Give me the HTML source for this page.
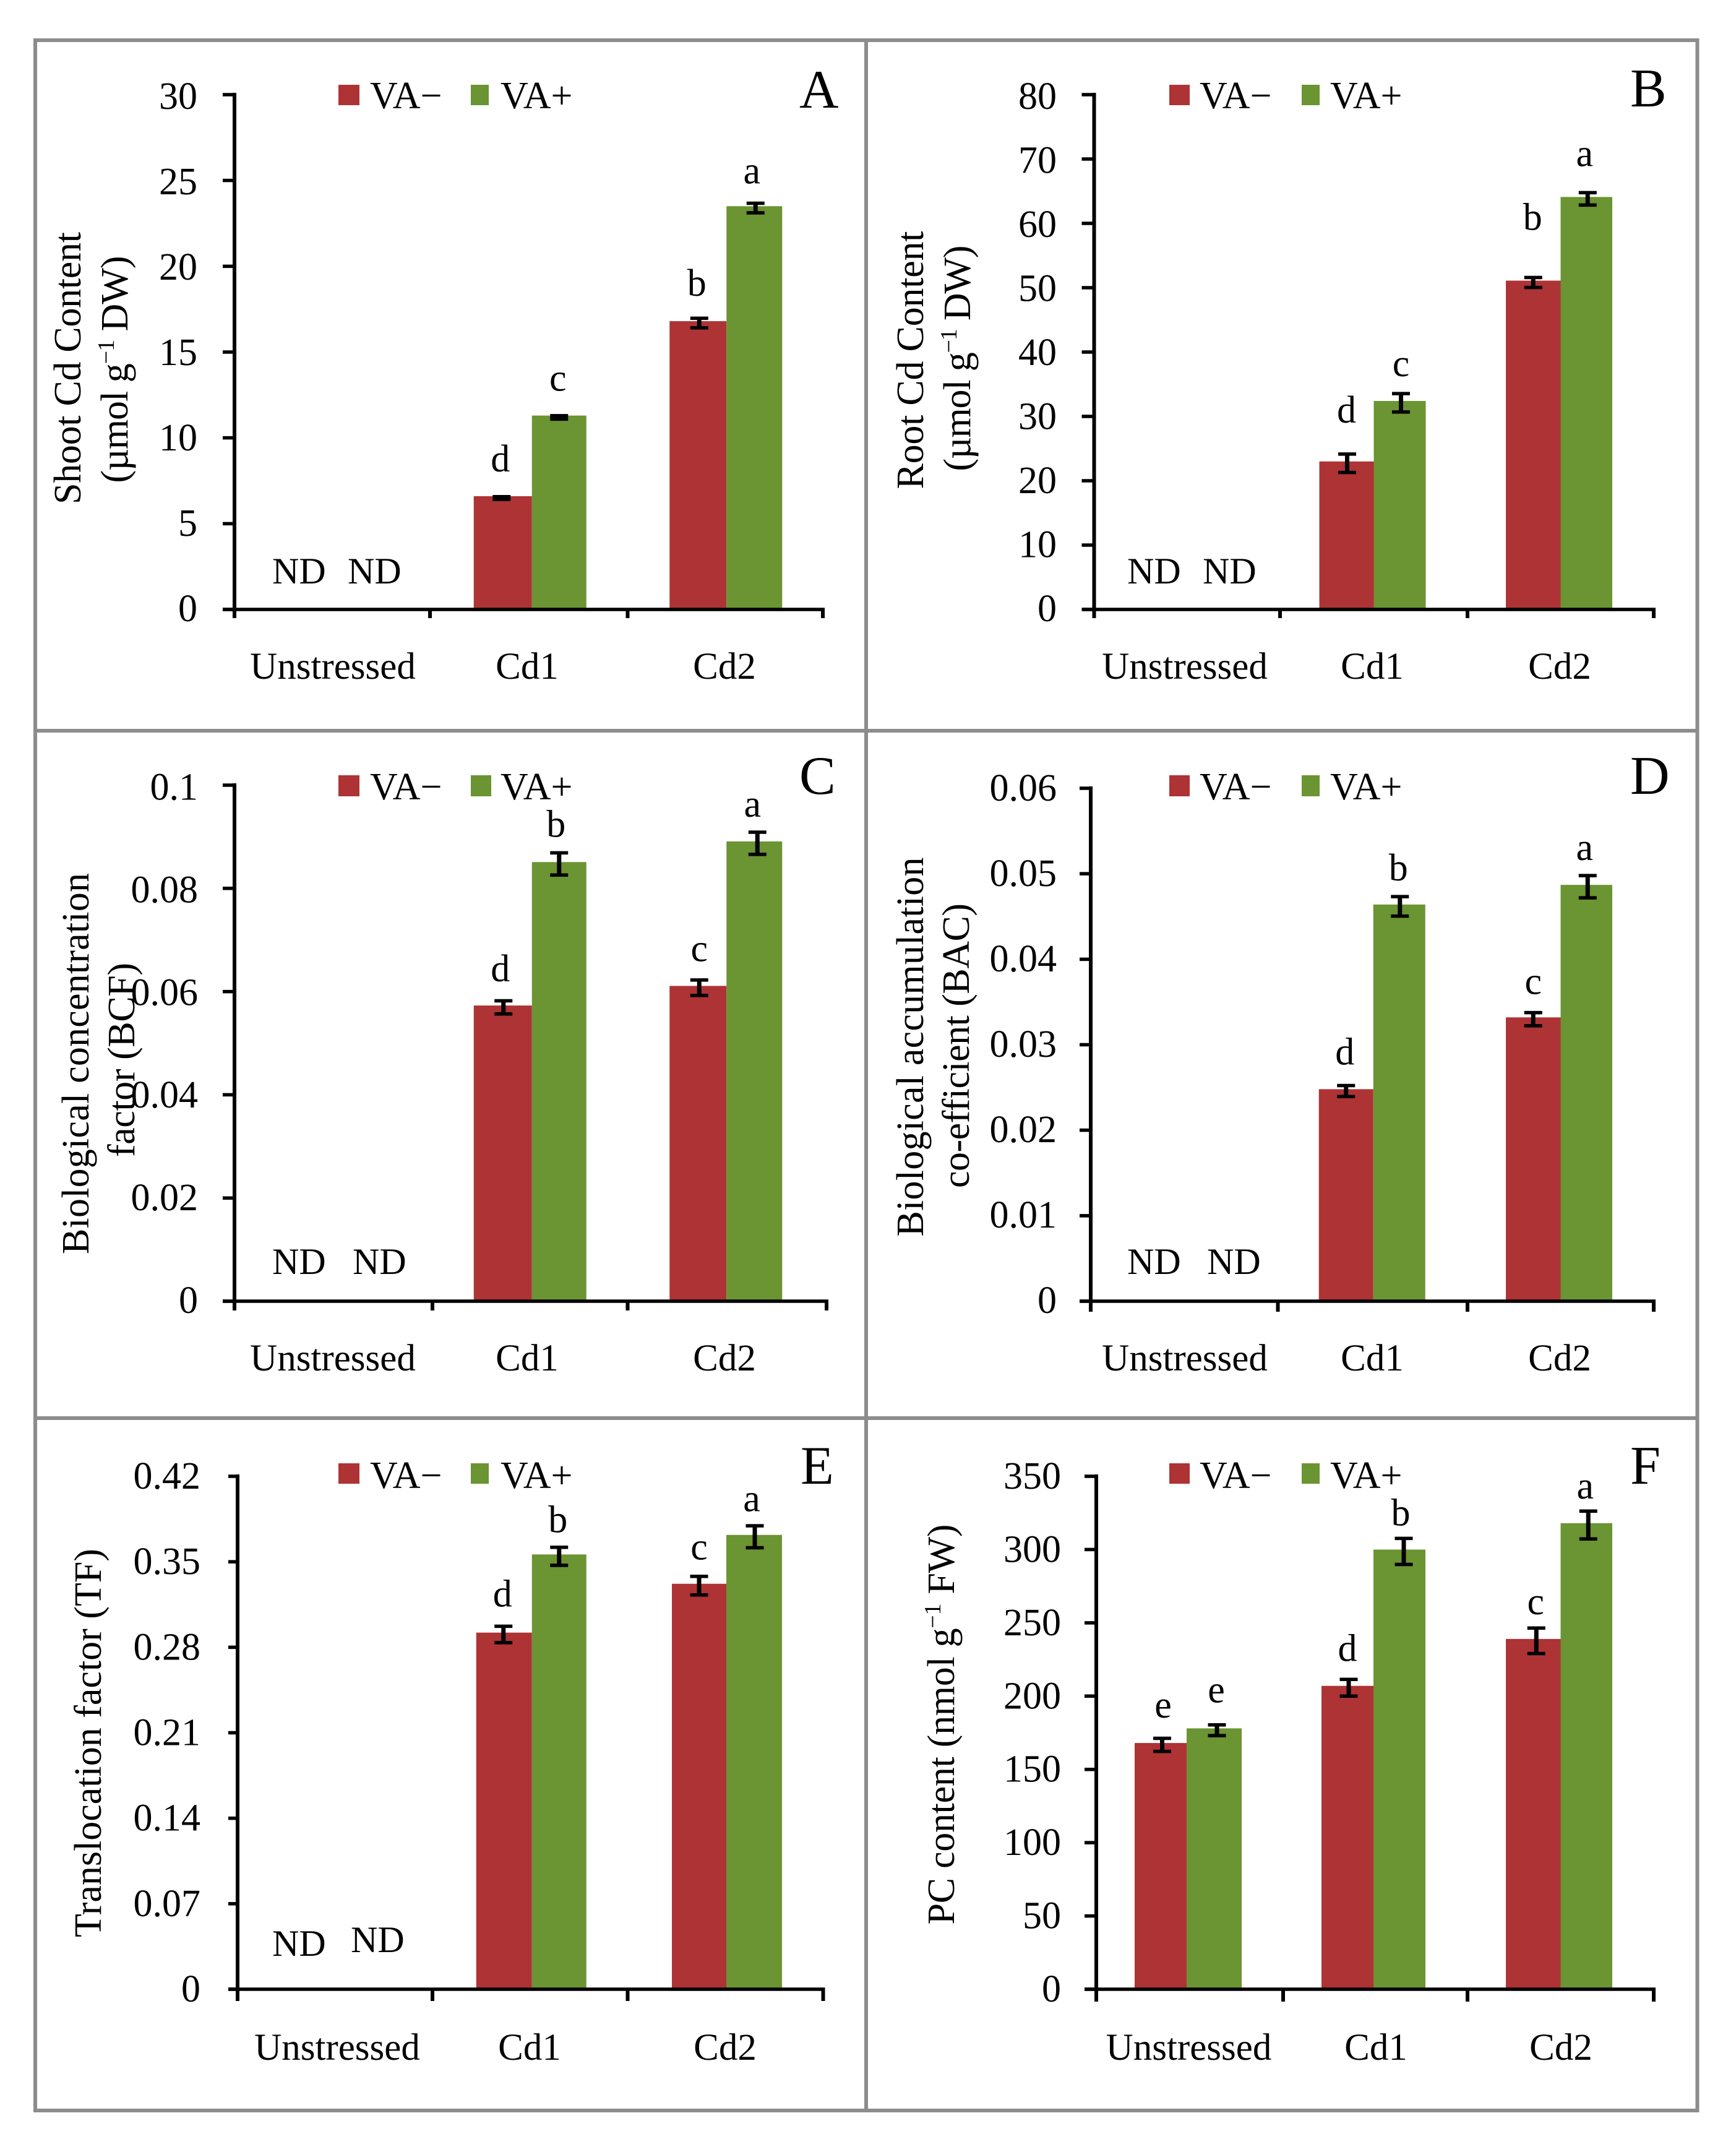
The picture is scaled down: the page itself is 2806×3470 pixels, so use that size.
<!DOCTYPE html>
<html lang="en">
<head>
<meta charset="utf-8">
<title>Cd content and accumulation in VA− and VA+ plants</title>
<style>
html,body{margin:0;padding:0;background:#fff;}
svg{display:block;}
text{font-family:"Liberation Serif","DejaVu Serif",serif;fill:#000;}
.t{font-size:62px;}
.c{font-size:61px;}
.lg{font-size:62px;}
.nd{font-size:60px;}
.pl{font-size:88px;}
</style>
</head>
<body>
<svg id="figure" xmlns="http://www.w3.org/2000/svg" width="2806" height="3470" viewBox="0 0 2806 3470">
<rect x="0" y="0" width="2806" height="3470" fill="#fff"/>

<g id="panel-a">
  <g>
    <rect x="547" y="137" width="34" height="33" fill="#ae3335"/>
    <text class="lg" x="598" y="175">VA−</text>
    <rect x="761" y="137" width="29" height="33" fill="#6b9432"/>
    <text class="lg" x="809" y="175">VA+</text>
  </g>
  <text class="pl" x="1292" y="174">A</text>
  <text class="t" text-anchor="middle" textLength="440" transform="translate(130,595) rotate(-90)">Shoot Cd Content</text>
  <text class="t" text-anchor="middle" textLength="367" transform="translate(206,597) rotate(-90)">(µmol g<tspan font-size="38" dy="-22">−1</tspan><tspan dy="22"> DW)</tspan></text>
  <text class="nd" x="440" y="943">ND</text>
  <text class="nd" x="562" y="943">ND</text>
</g>

<g id="panel-b">
  <g>
    <rect x="1890" y="137" width="33" height="33" fill="#ae3335"/>
    <text class="lg" x="1939" y="175">VA−</text>
    <rect x="2104" y="137" width="29" height="33" fill="#6b9432"/>
    <text class="lg" x="2150" y="175">VA+</text>
  </g>
  <text class="pl" x="2635" y="172">B</text>
  <text class="t" text-anchor="middle" textLength="417" transform="translate(1492,582) rotate(-90)">Root Cd Content</text>
  <text class="t" text-anchor="middle" textLength="365" transform="translate(1568,579) rotate(-90)">(µmol g<tspan font-size="38" dy="-22">−1</tspan><tspan dy="22"> DW)</tspan></text>
  <text class="nd" x="1822" y="943">ND</text>
  <text class="nd" x="1944" y="943">ND</text>
</g>

<g id="panel-c">
  <g>
    <rect x="547" y="1253" width="34" height="34" fill="#ae3335"/>
    <text class="lg" x="598" y="1292">VA−</text>
    <rect x="761" y="1253" width="33" height="34" fill="#6b9432"/>
    <text class="lg" x="809" y="1292">VA+</text>
  </g>
  <text class="pl" x="1292" y="1283">C</text>
  <text class="t" text-anchor="middle" textLength="616" transform="translate(143,1719) rotate(-90)">Biological concentration</text>
  <text class="t" text-anchor="middle" textLength="314" transform="translate(217,1713) rotate(-90)">factor (BCF)</text>
  <text class="nd" x="440" y="2059">ND</text>
  <text class="nd" x="570" y="2059">ND</text>
</g>

<g id="panel-d">
  <g>
    <rect x="1890" y="1253" width="33" height="34" fill="#ae3335"/>
    <text class="lg" x="1939" y="1292">VA−</text>
    <rect x="2104" y="1253" width="29" height="34" fill="#6b9432"/>
    <text class="lg" x="2150" y="1292">VA+</text>
  </g>
  <text class="pl" x="2635" y="1283">D</text>
  <text class="t" text-anchor="middle" textLength="613" transform="translate(1492,1692) rotate(-90)">Biological accumulation</text>
  <text class="t" text-anchor="middle" textLength="460" transform="translate(1566,1690) rotate(-90)">co-efficient (BAC)</text>
  <text class="nd" x="1822" y="2059">ND</text>
  <text class="nd" x="1951" y="2059">ND</text>
</g>

<g id="panel-e">
  <g>
    <rect x="547" y="2365" width="34" height="33" fill="#ae3335"/>
    <text class="lg" x="598" y="2405">VA−</text>
    <rect x="761" y="2365" width="29" height="33" fill="#6b9432"/>
    <text class="lg" x="809" y="2405">VA+</text>
  </g>
  <text class="pl" x="1294" y="2398">E</text>
  <text class="t" text-anchor="middle" textLength="628" transform="translate(163,2817) rotate(-90)">Translocation factor (TF)</text>
  <text class="nd" x="440" y="3161">ND</text>
  <text class="nd" x="567" y="3155">ND</text>
</g>

<g id="panel-f">
  <g>
    <rect x="1890" y="2365" width="33" height="33" fill="#ae3335"/>
    <text class="lg" x="1939" y="2405">VA−</text>
    <rect x="2104" y="2365" width="29" height="33" fill="#6b9432"/>
    <text class="lg" x="2150" y="2405">VA+</text>
  </g>
  <text class="pl" x="2635" y="2398">F</text>
  <text class="t" text-anchor="middle" textLength="647" transform="translate(1542,2787) rotate(-90)">PC content (nmol g<tspan font-size="38" dy="-22">−1</tspan><tspan dy="22"> FW)</tspan></text>
</g>

<g id="frame" fill="none" stroke="#8c8c8c" stroke-width="6">
  <rect x="57" y="65" width="2686.5" height="3346"/>
  <line x1="1400" y1="65" x2="1400" y2="3411"/>
  <line x1="57" y1="1181" x2="2743.5" y2="1181"/>
  <line x1="57" y1="2292" x2="2743.5" y2="2292"/>
</g>
</svg>

<script>
const categories = ['Unstressed', 'Cd1', 'Cd2'];

const yTickLabelsA = ['0', '5', '10', '15', '20', '25', '30'];
const vaMinusA = [null, 6.6, 16.8];
const vaPlusA = [null, 11.3, 23.5];
const errMinusA = [0, 0.08, 0.28];
const errPlusA = [0, 0.1, 0.28];
const sigMinusA = ['', 'd', 'b'];
const sigPlusA = ['', 'c', 'a'];

const yTickLabelsB = ['0', '10', '20', '30', '40', '50', '60', '70', '80'];
const vaMinusB = [null, 23, 51.1];
const vaPlusB = [null, 32.4, 64.1];
const errMinusB = [0, 1.43, 0.77];
const errPlusB = [0, 1.43, 0.96];
const sigMinusB = ['', 'd', 'b'];
const sigPlusB = ['', 'c', 'a'];

const yTickLabelsC = ['0', '0.02', '0.04', '0.06', '0.08', '0.1'];
const vaMinusC = [null, 0.0573, 0.0611];
const vaPlusC = [null, 0.0851, 0.0891];
const errMinusC = [0, 0.00128, 0.0015];
const errPlusC = [0, 0.00215, 0.00215];
const sigMinusC = ['', 'd', 'c'];
const sigPlusC = ['', 'b', 'a'];

const yTickLabelsD = ['0', '0.01', '0.02', '0.03', '0.04', '0.05', '0.06'];
const vaMinusD = [null, 0.0248, 0.0332];
const vaPlusD = [null, 0.0464, 0.0487];
const errMinusD = [0, 0.00064, 0.00077];
const errPlusD = [0, 0.00114, 0.0013];
const sigMinusD = ['', 'd', 'c'];
const sigPlusD = ['', 'b', 'a'];

const yTickLabelsE = ['0', '0.07', '0.14', '0.21', '0.28', '0.35', '0.42'];
const vaMinusE = [null, 0.292, 0.332];
const vaPlusE = [null, 0.356, 0.372];
const errMinusE = [0, 0.0067, 0.0076];
const errPlusE = [0, 0.0074, 0.009];
const sigMinusE = ['', 'd', 'c'];
const sigPlusE = ['', 'b', 'a'];

const yTickLabelsF = ['0', '50', '100', '150', '200', '250', '300', '350'];
const vaMinusF = [168, 207, 239];
const vaPlusF = [178, 300, 318];
const errMinusF = [4.45, 5.7, 8.7];
const errPlusF = [3.66, 8.9, 9.5];
const sigMinusF = ['e', 'd', 'c'];
const sigPlusF = ['e', 'b', 'a'];

const NS = 'http://www.w3.org/2000/svg';
const RED = '#ae3335';
const GREEN = '#6b9432';

function make(tag, attrs, parent, text) {
  const el = document.createElementNS(NS, tag);
  for (const k in attrs) el.setAttribute(k, attrs[k]);
  if (text !== undefined) el.textContent = text;
  parent.appendChild(el);
  return el;
}

function drawPanel(id, frame, tickLabels, minus, plus, errM, errP, sigM, sigP) {
  const root = document.getElementById(id);
  const yMax = parseFloat(tickLabels[tickLabels.length - 1]);
  const yAxis = v => frame.y0 - (v / yMax) * (frame.y0 - frame.yTop);
  const xJoint = i => (frame.edges[i] + frame.edges[i + 1]) / 2 + frame.bandShift[i];
  const x0 = frame.edges[0];
  const x1 = frame.edges[frame.edges.length - 1];

  categories.forEach((cat, i) => {
    const joint = xJoint(i);
    if (minus[i] !== null) {
      const top = yAxis(minus[i]);
      const bar = make('rect', {x: joint - frame.redW[i], y: top, width: frame.redW[i], height: frame.y0 - top, fill: RED}, root);
      
      
    }
    if (plus[i] !== null) {
      const top = yAxis(plus[i]);
      const bar = make('rect', {x: joint, y: top, width: frame.greenW[i], height: frame.y0 - top, fill: GREEN}, root);
      
      
    }
  });

  function errorBar(cx, value, err) {
    const cy = yAxis(value) + 3;
    const span = yAxis(0) - yAxis(err);
    const up = cy - span;
    const down = cy + span;
    const g = make('g', {stroke: '#000', fill: 'none'}, root);
    
    
    make('line', {x1: cx, x2: cx, y1: up, y2: down, 'stroke-width': 7}, g);
    make('line', {x1: cx - 14.5, x2: cx + 14.5, y1: up, y2: up, 'stroke-width': 5.5}, g);
    make('line', {x1: cx - 14.5, x2: cx + 14.5, y1: down, y2: down, 'stroke-width': 5.5}, g);
  }

  categories.forEach((cat, i) => {
    const joint = xJoint(i);
    const cm = joint - frame.redW[i] / 2;
    const cp = joint + frame.greenW[i] / 2;
    if (minus[i] !== null) {
      errorBar(cm + frame.errDxMinus[i], minus[i], errM[i]);
      const s = make('text', {class: 't', 'text-anchor': 'middle', x: cm + frame.sigDxMinus[i], y: yAxis(minus[i]) - frame.gapMinus[i]}, root, sigM[i]);
      
      
    }
    if (plus[i] !== null) {
      errorBar(cp + frame.errDxPlus[i], plus[i], errP[i]);
      const s = make('text', {class: 't', 'text-anchor': 'middle', x: cp + frame.sigDxPlus[i], y: yAxis(plus[i]) - frame.gapPlus[i]}, root, sigP[i]);
      
      
    }
  });

  const axisY = make('line', {x1: x0, x2: x0, y1: frame.yTop - 3, y2: frame.y0 + frame.tickDown, stroke: '#000', 'stroke-width': 6}, root);
  
  
  const axisX = make('line', {x1: x0 - frame.tickLeft, x2: x1 + 3, y1: frame.y0, y2: frame.y0, stroke: '#000', 'stroke-width': 5.5}, root);
  
  

  tickLabels.forEach((label, i) => {
    const v = parseFloat(label);
    const ty = yAxis(v);
    const tick = make('line', {x1: x0 - frame.tickLeft, x2: x0, y1: ty, y2: ty, stroke: '#000', 'stroke-width': 5.5}, root);
    
    
    const offset = frame.labelDy[0] + (frame.labelDy[1] - frame.labelDy[0]) * (v / yMax);
    const t = make('text', {class: 't', 'text-anchor': 'end', x: frame.labelRight, y: ty + offset}, root, label);
    
    
  });

  frame.edges.forEach(ex => {
    const tick = make('line', {x1: ex, x2: ex, y1: frame.y0, y2: frame.y0 + frame.tickDown, stroke: '#000', 'stroke-width': 6}, root);
    
    
  });

  categories.forEach((cat, i) => {
    const t = make('text', {class: 'c', 'text-anchor': 'middle', x: frame.catX[i], y: frame.catY}, root, cat);
    
    
  });
}

drawPanel('panel-a', {edges: [379, 695, 1014.5, 1330], bandShift: [0, 5, 2], yTop: 153, y0: 985, tickLeft: 19, tickDown: 14, labelRight: 319, labelDy: [19, 23],
  redW: [93, 94, 92], greenW: [89, 88, 90], errDxMinus: [0, -2, 2], errDxPlus: [0, 0, 2], sigDxMinus: [0, -4, -2], sigDxPlus: [0, -2, -4],
  catX: [538, 852, 1171], catY: 1097, gapMinus: [0, 40, 41], gapPlus: [0, 40, 37]},
  yTickLabelsA, vaMinusA, vaPlusA, errMinusA, errPlusA, sigMinusA, sigPlusA);
drawPanel('panel-b', {edges: [1768.5, 2069, 2372, 2673], bandShift: [0, 0, 0], yTop: 153, y0: 985, tickLeft: 20, tickDown: 14, labelRight: 1708, labelDy: [19, 23],
  redW: [88, 88, 88.5], greenW: [84, 84, 83.5], errDxMinus: [0, 1, 0], errDxPlus: [0, 2, 2], sigDxMinus: [0, 0, -1], sigDxPlus: [0, 2, -3],
  catX: [1915, 2218, 2521], catY: 1097, gapMinus: [0, 63, 82], gapPlus: [0, 40, 50]},
  yTickLabelsB, vaMinusB, vaPlusB, errMinusB, errPlusB, sigMinusB, sigPlusB);
drawPanel('panel-c', {edges: [379, 699, 1014.5, 1336], bandShift: [0, 3, -1], yTop: 1269, y0: 2103, tickLeft: 19, tickDown: 15, labelRight: 320, labelDy: [19, 23.5],
  redW: [93, 94, 92], greenW: [89, 88, 90], errDxMinus: [0, 1, 2], errDxPlus: [0, 0, 5], sigDxMinus: [0, -4, 2], sigDxPlus: [0, -5, -3],
  catX: [538, 852, 1171], catY: 2215, gapMinus: [0, 39, 40], gapPlus: [0, 41, 40]},
  yTickLabelsC, vaMinusC, vaPlusC, errMinusC, errPlusC, sigMinusC, sigPlusC);
drawPanel('panel-d', {edges: [1763, 2065.5, 2372, 2673], bandShift: [0, 1, 0], yTop: 1274, y0: 2103, tickLeft: 18, tickDown: 17, labelRight: 1708, labelDy: [19, 20],
  redW: [88, 88, 88.5], greenW: [84, 84, 83.5], errDxMinus: [0, 0, 0], errDxPlus: [0, 1, 2], sigDxMinus: [0, -2, 0], sigDxPlus: [0, -1.5, -3],
  catX: [1915, 2218, 2521], catY: 2215, gapMinus: [0, 40, 38], gapPlus: [0, 39, 40]},
  yTickLabelsD, vaMinusD, vaPlusD, errMinusD, errPlusD, sigMinusD, sigPlusD);
drawPanel('panel-e', {edges: [384, 699, 1014.5, 1330.5], bandShift: [0, 3, 1.5], yTop: 2386, y0: 3215, tickLeft: 15, tickDown: 19, labelRight: 324, labelDy: [20, 20],
  redW: [90, 90, 88], greenW: [89, 88, 90], errDxMinus: [0, -1, 0], errDxPlus: [0, 0, 1], sigDxMinus: [0, -2.5, 0], sigDxPlus: [0, -2, -4],
  catX: [545, 856, 1172], catY: 3329, gapMinus: [0, 42, 39], gapPlus: [0, 36, 38]},
  yTickLabelsE, vaMinusE, vaPlusE, errMinusE, errPlusE, sigMinusE, sigPlusE);
drawPanel('panel-f', {edges: [1772, 2074, 2372, 2673], bandShift: [-5, -3, 0], yTop: 2386, y0: 3215, tickLeft: 19, tickDown: 20, labelRight: 1715, labelDy: [20, 20],
  redW: [84, 84, 88.5], greenW: [89, 84, 83.5], errDxMinus: [2.5, 2, 5], errDxPlus: [4.5, 7, 3], sigDxMinus: [4, 0, 4], sigDxPlus: [3.5, 2, -2],
  catX: [1921.5, 2224, 2523], catY: 3329, gapMinus: [41, 40, 40], gapPlus: [42, 39, 40]},
  yTickLabelsF, vaMinusF, vaPlusF, errMinusF, errPlusF, sigMinusF, sigPlusF);
</script>
</body>
</html>
